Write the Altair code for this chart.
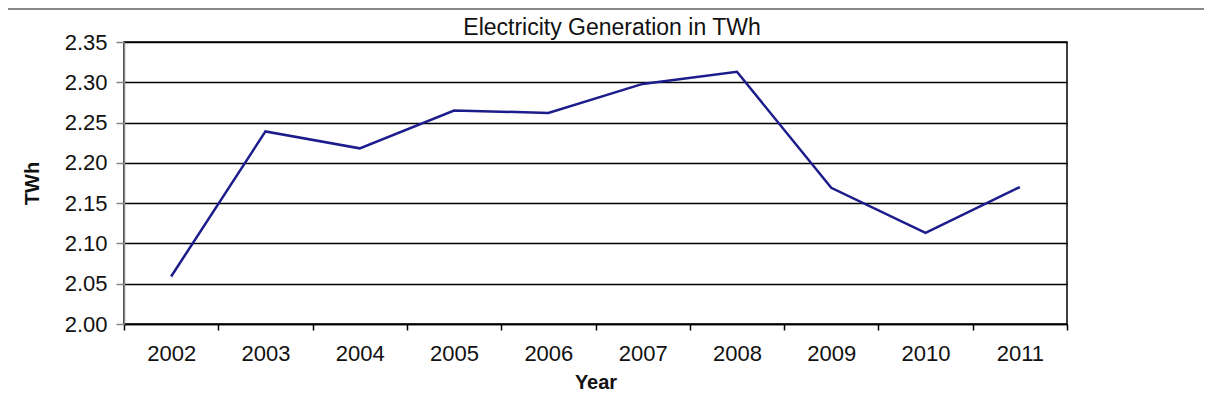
import altair as alt
import pandas as pd

years = ["2002", "2003", "2004", "2005", "2006", "2007", "2008", "2009", "2010", "2011"]
twh = [2.059, 2.239, 2.218, 2.265, 2.262, 2.298, 2.313, 2.169, 2.113, 2.170]
y_ticks = [2.00, 2.05, 2.10, 2.15, 2.20, 2.25, 2.30, 2.35]
title_text = "Electricity Generation in TWh"

df = pd.DataFrame({"Year": years, "TWh": twh})

FONT = "Liberation Sans"

line = alt.Chart(df).mark_line(color="#1c1c8c", strokeWidth=2.5).encode(
    x=alt.X(
        "Year:O",
        bandPosition=0.5,
        scale=alt.Scale(type="band", paddingInner=0, paddingOuter=0),
        axis=alt.Axis(
            title="Year",
            labelAngle=0,
            tickBand="extent",
            tickSize=6,
            tickColor="#000000",
            tickWidth=1.5,
            domainColor="#000000",
            domainWidth=1.5,
            labelFontSize=22,
            labelFont=FONT,
            labelColor="#111111",
            labelPadding=13,
            titleFontSize=20,
            titleFont=FONT,
            titleFontWeight="bold",
            titleColor="#111111",
            titlePadding=8,
            grid=False,
        ),
    ),
    y=alt.Y(
        "TWh:Q",
        scale=alt.Scale(domain=[2.0, 2.35], nice=False, zero=False),
        axis=alt.Axis(
            title="TWh",
            values=y_ticks,
            format=".2f",
            grid=True,
            gridColor="#000000",
            gridWidth=1.5,
            domainColor="#888888",
            domainWidth=1.5,
            tickColor="#888888",
            tickSize=8,
            tickWidth=1.5,
            labelFontSize=22,
            labelFont=FONT,
            labelColor="#111111",
            labelPadding=9,
            titleFontSize=20,
            titleFont=FONT,
            titleFontWeight="bold",
            titleColor="#111111",
            titlePadding=22,
        ),
    ),
)

helper = pd.DataFrame({"a": [0]})

top_rule = alt.Chart(helper).mark_rule(
    color="#888888", strokeWidth=2
).encode(x=alt.value(-116), x2=alt.value(1080), y=alt.value(-33))

title = alt.Chart(helper).mark_text(
    font=FONT, fontSize=23, color="#111111", align="center", baseline="middle"
).encode(x=alt.value(488), y=alt.value(-14), text=alt.value(title_text))

chart = alt.layer(top_rule, title, line).properties(
    width=943,
    height=282,
    autosize=alt.AutoSizeParams(type="none"),
    padding={"left": 116, "top": 34, "right": 137, "bottom": 70},
).configure_view(stroke="#000000", strokeWidth=1.5)

chart.save("out.html", embed_options={"renderer": "svg", "actions": False})
